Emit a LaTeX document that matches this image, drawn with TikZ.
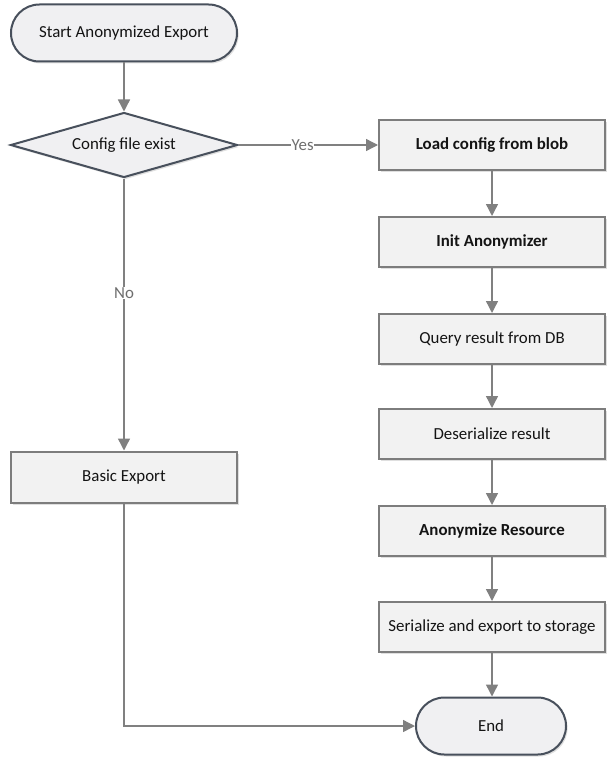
\documentclass[tikz,border=0pt]{standalone}
\usepackage{fontspec}
\setmainfont{Carlito}
\usetikzlibrary{shapes.geometric,arrows.meta,shadows}

\begin{document}
\begin{tikzpicture}
		\tikzstyle{every node}=[font=\fontsize{24}{28}\selectfont, text={rgb,255:red,20; green,20; blue,20}]
		\tikzstyle{caja} = [draw={rgb,255:red,125; green,125; blue,125}, align=center, line width=0.1cm, fill={rgb,255:red,242; green,242; blue,242}, minimum width=11.3cm, minimum height=2.5cm, drop shadow={shadow xshift=0.08cm, shadow yshift=-0.1cm, opacity=0.25}]
		\tikzstyle{terminal} = [draw={rgb,255:red,72; green,80; blue,92}, align=center, line width=0.1cm, fill={rgb,255:red,240; green,240; blue,242}, minimum height=2.85cm, rounded corners=1.42cm, drop shadow={shadow xshift=0.08cm, shadow yshift=-0.1cm, opacity=0.25}]
		\tikzstyle{decision} = [diamond, aspect=3.5, draw={rgb,255:red,72; green,80; blue,92}, align=center, line width=0.1cm, fill={rgb,255:red,240; green,240; blue,242}, inner sep=0pt, minimum width=11.35cm, minimum height=3.25cm, drop shadow={shadow xshift=0.08cm, shadow yshift=-0.1cm, opacity=0.25}]
		\tikzstyle{flecha} = [-{Triangle[length=0.6cm,width=0.6cm]}, line width=0.07cm, draw={rgb,255:red,128; green,128; blue,128}, color={rgb,255:red,128; green,128; blue,128}]
		\tikzstyle{linea} = [line width=0.07cm, draw={rgb,255:red,128; green,128; blue,128}]
		\tikzstyle{etiqueta} = [fill=white, inner sep=1pt, text={rgb,255:red,110; green,110; blue,110}]

		\useasboundingbox (0,0) rectangle (30.7,-38.4);

		\draw (6.2,-1.65) node[terminal, minimum width=11.3cm](start){Start Anonymized Export};
		\draw (6.2,-7.25) node[decision](config){Config file exist};
		\draw (6.2,-23.85) node[caja, minimum height=2.55cm](basic){Basic Export};

		\draw (24.6,-7.25) node[caja](load){\textbf{Load config from blob}};
		\draw (24.6,-12.1) node[caja](init){\textbf{Init Anonymizer}};
		\draw (24.6,-16.95) node[caja](query){Query result from DB};
		\draw (24.6,-21.7) node[caja](deser){Deserialize result};
		\draw (24.6,-26.55) node[caja](anon){\textbf{Anonymize Resource}};
		\draw (24.6,-31.35) node[caja](serial){Serialize and export to storage};
		\draw (24.55,-36.3) node[terminal, minimum width=7.5cm](end){End};

		\draw [flecha] (start) -- (config);
		\draw [flecha] (config.east) -- (load.west) node[pos=0.46, etiqueta]{Yes};
		\draw [flecha] (config.south) -- (basic.north) node[pos=0.42, etiqueta]{No};
		\draw [flecha] (load) -- (init);
		\draw [flecha] (init) -- (query);
		\draw [flecha] (query) -- (deser);
		\draw [flecha] (deser) -- (anon);
		\draw [flecha] (anon) -- (serial);
		\draw [flecha] (serial.south) -- (serial.south |- end.north);
		\draw [flecha] (basic.south) |- (end.west);
	\end{tikzpicture}
\end{document}
